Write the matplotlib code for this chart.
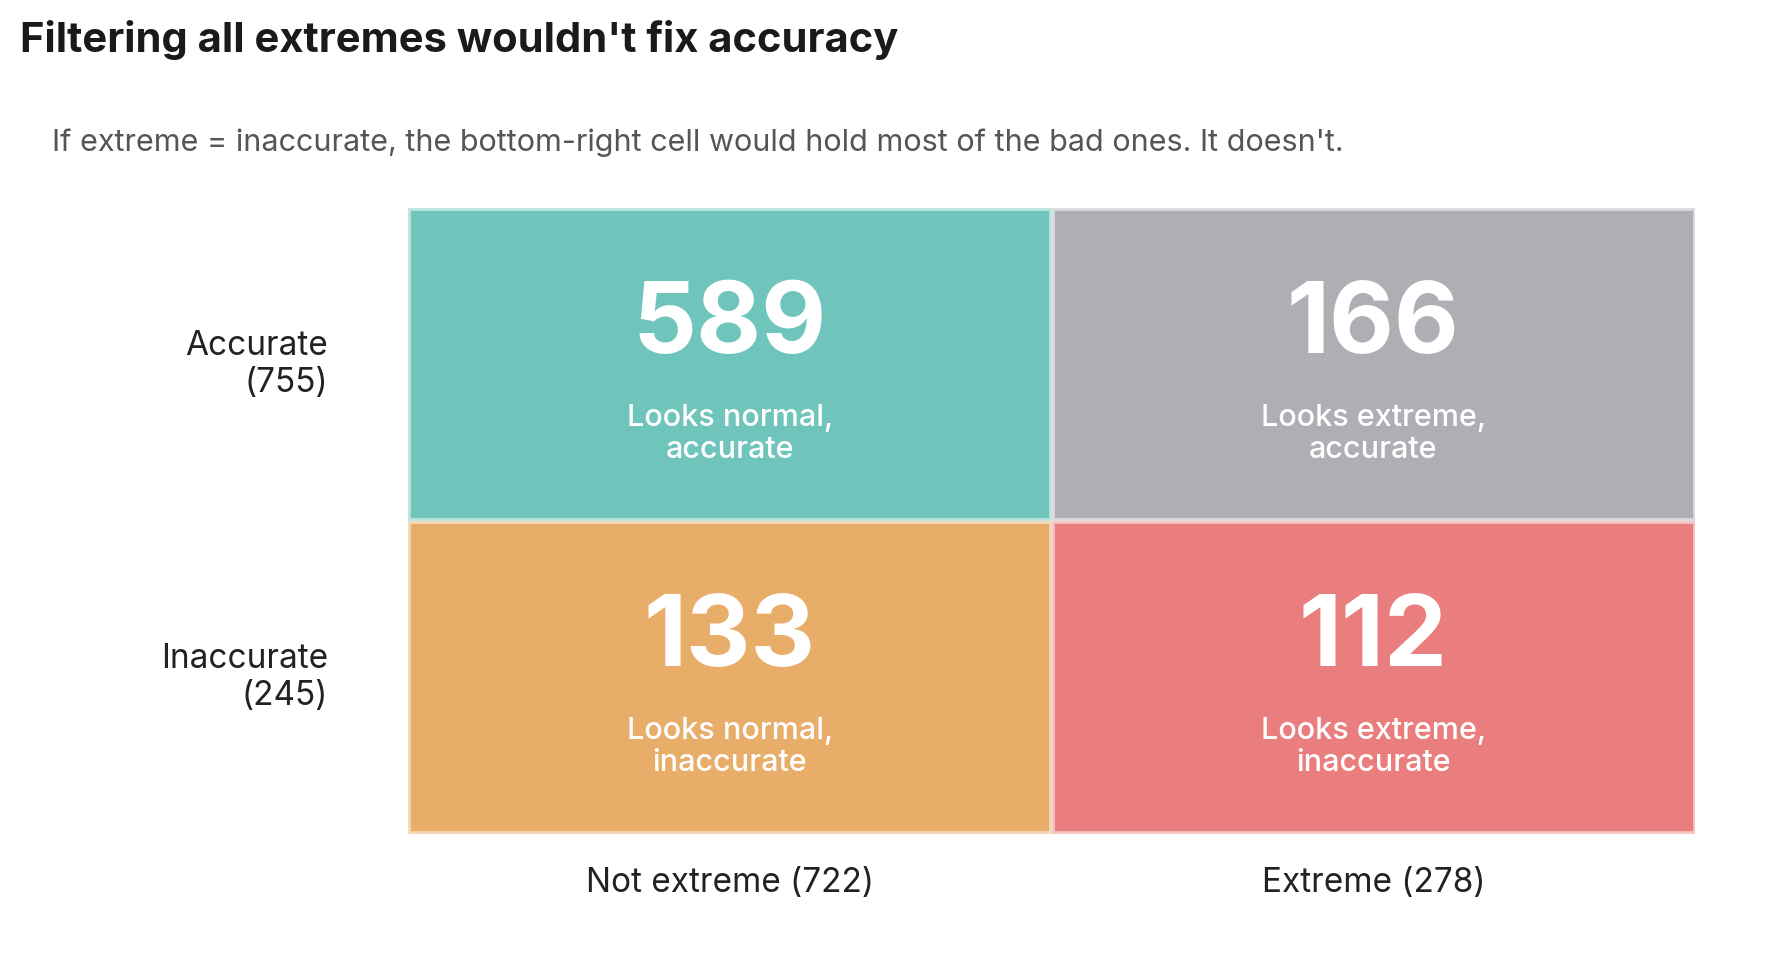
import matplotlib
matplotlib.use('Agg')
from matplotlib import pyplot as plt
from matplotlib.patches import Rectangle
from matplotlib.transforms import blended_transform_factory

plt.rcParams['font.family'] = ['Inter', 'DejaVu Sans']

counts = [[589, 166],
          [133, 112]]
row_labels = ['Accurate\n(755)', 'Inaccurate\n(245)']
col_labels = ['Not extreme (722)', 'Extreme (278)']
cell_text = [['Looks normal,\naccurate', 'Looks extreme,\naccurate'],
             ['Looks normal,\ninaccurate', 'Looks extreme,\ninaccurate']]
cell_colors = [['#6fc4bb', '#aeafb4'],
               ['#e8ad69', '#ea7d7d']]
edge_colors = [['#bde3de', '#d9dadc'],
               ['#f4d7b5', '#f6c2c2']]

fig = plt.figure(figsize=(17.79, 9.80), dpi=100)
ax = fig.add_axes([0.2293, 0.149, 0.7235, 0.639])
ax.set_xlim(0, 2)
ax.set_ylim(2, 0)
ax.axis('off')

dx = 1.5 / 643
dy = 1.5 / 313
for i in range(2):
    for j in range(2):
        ax.add_patch(Rectangle((j + dx, i + dy), 1 - 2 * dx, 1 - 2 * dy,
                               facecolor=cell_colors[i][j], edgecolor=edge_colors[i][j],
                               linewidth=2))
        ax.text(j + 0.5, i + 0.381, str(counts[i][j]), ha='center', va='center',
                fontsize=72, fontweight='bold', color='white')
        ax.text(j + 0.5, i + 0.722, cell_text[i][j], ha='center', va='center',
                fontsize=22, fontweight='medium', color='white', linespacing=1.2)

tr_rows = blended_transform_factory(ax.transAxes, ax.transData)
for i, lab in enumerate(row_labels):
    ax.text(-0.062, i + 0.5, lab, transform=tr_rows, ha='right', va='center',
            fontsize=24, color='#222222', linespacing=1.22)

tr_cols = blended_transform_factory(ax.transData, ax.transAxes)
for j, lab in enumerate(col_labels):
    ax.text(j + 0.5, -0.078, lab, transform=tr_cols, ha='center', va='center',
            fontsize=24, color='#222222')

fig.text(0.0112, 0.959, "Filtering all extremes wouldn't fix accuracy",
         fontsize=30, fontweight='bold', color='#1a1a1a', va='center')
fig.text(0.0292, 0.854,
         "If extreme = inaccurate, the bottom-right cell would hold most of the bad ones. It doesn't.",
         fontsize=22, color='#555555', va='center')

fig.savefig('out.png', dpi=100, facecolor='white')
